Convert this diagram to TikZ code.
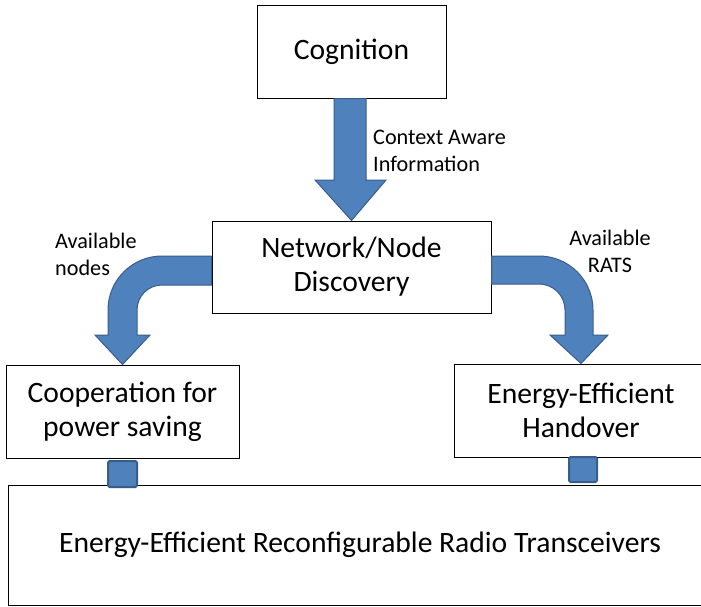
\documentclass[tikz,border=0pt]{standalone}
\usepackage{fontspec}
\setmainfont{Carlito}
\begin{document}
\begin{tikzpicture}[x=1pt,y=1pt,
  box/.style={draw=black, line width=1pt, fill=white, inner sep=0pt,
    align=center, font=\fontsize{29.6}{34}\selectfont},
  lbl/.style={inner sep=0pt, font=\fontsize{22.2}{27.5}\selectfont},
  blockarrow/.style={fill={rgb,255:red,79;green,129;blue,189},
    draw={rgb,255:red,56;green,93;blue,138}, line width=1pt, line join=miter},
  link/.style={fill={rgb,255:red,79;green,129;blue,189},
    draw={rgb,255:red,56;green,93;blue,138}, line width=2pt, rounded corners=1.5pt}]
\useasboundingbox (0,0) rectangle (701,-606);

% boxes
\node[box, minimum width=189pt, minimum height=93pt] (cog) at (351.5,-51.5) {Cognition};
\node[box, minimum width=279pt, minimum height=92pt] (net) at (351.5,-267) {Network/Node\\Discovery};
\node[box, minimum width=233pt, minimum height=93pt] (coop) at (122.5,-411.5) {Cooperation for\\power saving};
\node[box, minimum width=254pt, minimum height=93pt] (hand) at (581,-410.5) {Energy-Efficient\\Handover};
\node[box, minimum width=704pt, minimum height=120pt] (radio) at (360,-545) {Energy-Efficient Reconfigurable Radio Transceivers};

% straight block arrow: cognition -> discovery
\draw[blockarrow] (334,0 |- cog.south) -- (366,0 |- cog.south) -- (366,-180) -- (386,-180)
  -- (net.north) -- (315,-180) -- (334,-180) -- cycle;

% bent block arrow: discovery -> cooperation
\draw[blockarrow] (net.west |- 0,-256) -- (162,-256) arc[start angle=90, end angle=180, radius=54]
  -- (108,-335) -- (95,-335) -- (coop.north) -- (150,-335) -- (137,-335) -- (137,-310)
  arc[start angle=180, end angle=90, radius=25] -- (net.west |- 0,-285) -- cycle;

% bent block arrow: discovery -> handover
\draw[blockarrow] (net.east |- 0,-256) -- (539,-256) arc[start angle=90, end angle=0, radius=54]
  -- (593,-335) -- (608,-335) -- (hand.north) -- (550,-335) -- (565,-335) -- (565,-310)
  arc[start angle=0, end angle=90, radius=26] -- (net.east |- 0,-284) -- cycle;

% links down to the transceiver layer
\draw[link] (108,-461) rectangle (137,-487);
\draw[link] (569,-457) rectangle (597,-482);

% arrow labels
\node[lbl, anchor=north west, align=left] (lblctx) at (373,-129.5) {Context Aware\\Information};
\node[lbl, anchor=north west, align=left] (lblnodes) at (55,-232.5) {Available\\nodes};
\node[lbl, anchor=north, align=center] (lblrats) at (610,-229.5) {Available\\RATS};
\end{tikzpicture}
\end{document}
